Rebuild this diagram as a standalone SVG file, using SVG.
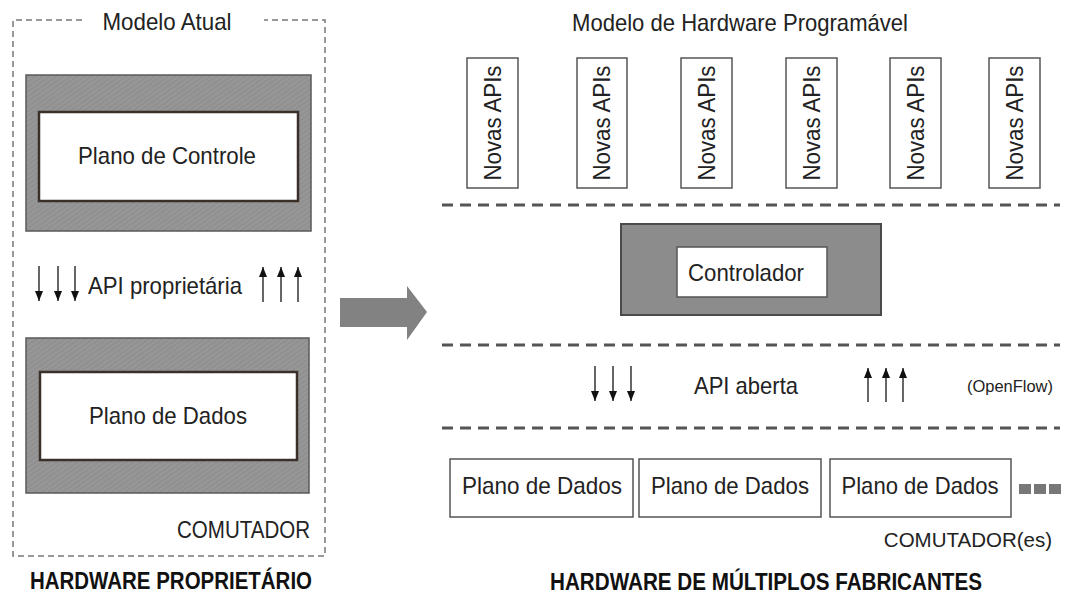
<svg xmlns="http://www.w3.org/2000/svg" width="1070" height="599" viewBox="0 0 1070 599">
<defs>
<pattern id="hatch" patternUnits="userSpaceOnUse" width="4" height="4" patternTransform="rotate(-35)">
<rect width="4" height="4" fill="#909090"/>
<line x1="0" y1="1" x2="4" y2="1" stroke="#9e9e9e" stroke-width="1"/>
</pattern>
<marker id="ah" markerWidth="10" markerHeight="8" refX="10" refY="4" orient="auto" markerUnits="userSpaceOnUse" viewBox="0 0 10 8">
<path d="M0,0 L10,4 L0,8 Z" fill="#111"/>
</marker>
</defs>
<style>
text{font-family:"Liberation Sans",Arial,sans-serif;fill:#222}
.t22{font-size:24px}
.bold{font-weight:bold;font-size:24px;fill:#111}
.gray{fill:url(#hatch);stroke:#5a5a5a;stroke-width:1.5}
.inner{fill:#fff;stroke:#3b3029;stroke-width:2.5}
.box{fill:#fff;stroke:#555;stroke-width:1.5}
.dash{stroke:#555;stroke-width:3;stroke-dasharray:11 7;fill:none}
.ldash{stroke:#777;stroke-width:1.5;stroke-dasharray:6 4;fill:none}
.arr{stroke:#333;stroke-width:1.5;fill:none}
</style>

<g id="left-frame">
<path class="ldash" d="M82,20 L13,20 L13,556 L325,556 L325,20 L264,20"/>
<text class="t22" x="167" y="30" text-anchor="middle" textLength="129" lengthAdjust="spacingAndGlyphs">Modelo Atual</text>
<text class="t22" x="310" y="538" text-anchor="end" font-size="22" textLength="133" lengthAdjust="spacingAndGlyphs">COMUTADOR</text>
</g>

<g id="plano-controle">
<rect class="gray" x="26" y="75" width="285" height="156"/>
<rect class="inner" x="39" y="112" width="259" height="89"/>
<text class="t22" x="167" y="164" text-anchor="middle" textLength="178" lengthAdjust="spacingAndGlyphs">Plano de Controle</text>
</g>

<g id="api-proprietaria">
<text class="t22" x="88" y="294" textLength="154" lengthAdjust="spacingAndGlyphs">API proprietária</text>
</g>

<g id="plano-dados-left">
<rect class="gray" x="26" y="338" width="283" height="155"/>
<rect class="inner" x="40" y="372" width="257" height="88"/>
<text class="t22" x="168" y="424" text-anchor="middle" textLength="158" lengthAdjust="spacingAndGlyphs">Plano de Dados</text>
</g>

<g id="big-arrow">
<path d="M340,298 L407,298 L407,286 L427,312 L407,340 L407,327 L340,327 Z" fill="#828282"/>
</g>

<g id="right-title">
<text class="t22" x="740" y="31" text-anchor="middle" textLength="336" lengthAdjust="spacingAndGlyphs">Modelo de Hardware Programável</text>
</g>

<g id="novas-apis">
<rect class="box" x="467" y="58" width="51" height="130"/>
<text class="t22" transform="translate(501,123) rotate(-90)" text-anchor="middle" textLength="115" lengthAdjust="spacingAndGlyphs">Novas APIs</text>
<rect class="box" x="577" y="58" width="50" height="130"/>
<text class="t22" transform="translate(610,123) rotate(-90)" text-anchor="middle" textLength="115" lengthAdjust="spacingAndGlyphs">Novas APIs</text>
<rect class="box" x="681" y="58" width="51" height="130"/>
<text class="t22" transform="translate(715,123) rotate(-90)" text-anchor="middle" textLength="115" lengthAdjust="spacingAndGlyphs">Novas APIs</text>
<rect class="box" x="786" y="58" width="51" height="130"/>
<text class="t22" transform="translate(820,123) rotate(-90)" text-anchor="middle" textLength="115" lengthAdjust="spacingAndGlyphs">Novas APIs</text>
<rect class="box" x="890" y="58" width="51" height="130"/>
<text class="t22" transform="translate(924,123) rotate(-90)" text-anchor="middle" textLength="115" lengthAdjust="spacingAndGlyphs">Novas APIs</text>
<rect class="box" x="989" y="58" width="51" height="130"/>
<text class="t22" transform="translate(1023,123) rotate(-90)" text-anchor="middle" textLength="115" lengthAdjust="spacingAndGlyphs">Novas APIs</text>
</g>

<g id="controlador">
<rect x="621" y="224" width="260" height="91" fill="#8c8c8c" stroke="#4a4a4a" stroke-width="2"/>
<rect x="677" y="247" width="150" height="50" fill="#fff" stroke="#555" stroke-width="1.5"/>
<text class="t22" x="746" y="281" text-anchor="middle" textLength="116" lengthAdjust="spacingAndGlyphs">Controlador</text>
</g>

<g id="api-aberta">
<text class="t22" x="694" y="394" textLength="104" lengthAdjust="spacingAndGlyphs">API aberta</text>
<text x="967" y="392" font-size="17" textLength="86" lengthAdjust="spacingAndGlyphs">(OpenFlow)</text>
</g>

<g id="planos-dados-right">
<rect class="box" x="450" y="459" width="183" height="58"/>
<text class="t22" x="542" y="494" text-anchor="middle" textLength="160" lengthAdjust="spacingAndGlyphs">Plano de Dados</text>
<rect class="box" x="639" y="459" width="182" height="58"/>
<text class="t22" x="730" y="494" text-anchor="middle" textLength="158" lengthAdjust="spacingAndGlyphs">Plano de Dados</text>
<rect class="box" x="830" y="459" width="181" height="58"/>
<text class="t22" x="920" y="494" text-anchor="middle" textLength="157" lengthAdjust="spacingAndGlyphs">Plano de Dados</text>
<rect x="1019" y="484" width="12" height="10" fill="#777"/>
<rect x="1034" y="484" width="12" height="10" fill="#777"/>
<rect x="1049" y="484" width="12" height="10" fill="#777"/>
<text x="1052" y="547" text-anchor="end" font-size="20.5">COMUTADOR(es)</text>
</g>

<g id="labels">
<text class="bold" x="171" y="589" text-anchor="middle" textLength="282" lengthAdjust="spacingAndGlyphs">HARDWARE PROPRIETÁRIO</text>
<text class="bold" x="766" y="590" text-anchor="middle" textLength="432" lengthAdjust="spacingAndGlyphs">HARDWARE DE MÚLTIPLOS FABRICANTES</text>
</g>

<g id="connectors">
<line class="arr" x1="39" y1="266" x2="39" y2="301" marker-end="url(#ah)"/>
<line class="arr" x1="58" y1="266" x2="58" y2="301" marker-end="url(#ah)"/>
<line class="arr" x1="75" y1="266" x2="75" y2="301" marker-end="url(#ah)"/>
<line class="arr" x1="263" y1="302" x2="263" y2="267" marker-end="url(#ah)"/>
<line class="arr" x1="281" y1="302" x2="281" y2="267" marker-end="url(#ah)"/>
<line class="arr" x1="298" y1="302" x2="298" y2="267" marker-end="url(#ah)"/>
<line class="dash" x1="442" y1="205" x2="1060" y2="205"/>
<line class="dash" x1="442" y1="345" x2="1060" y2="345"/>
<line class="dash" x1="442" y1="428" x2="1060" y2="428"/>
<line class="arr" x1="595" y1="366" x2="595" y2="401" marker-end="url(#ah)"/>
<line class="arr" x1="613" y1="366" x2="613" y2="401" marker-end="url(#ah)"/>
<line class="arr" x1="631" y1="366" x2="631" y2="401" marker-end="url(#ah)"/>
<line class="arr" x1="868" y1="402" x2="868" y2="368" marker-end="url(#ah)"/>
<line class="arr" x1="886" y1="402" x2="886" y2="368" marker-end="url(#ah)"/>
<line class="arr" x1="903" y1="402" x2="903" y2="368" marker-end="url(#ah)"/>
</g>
</svg>
